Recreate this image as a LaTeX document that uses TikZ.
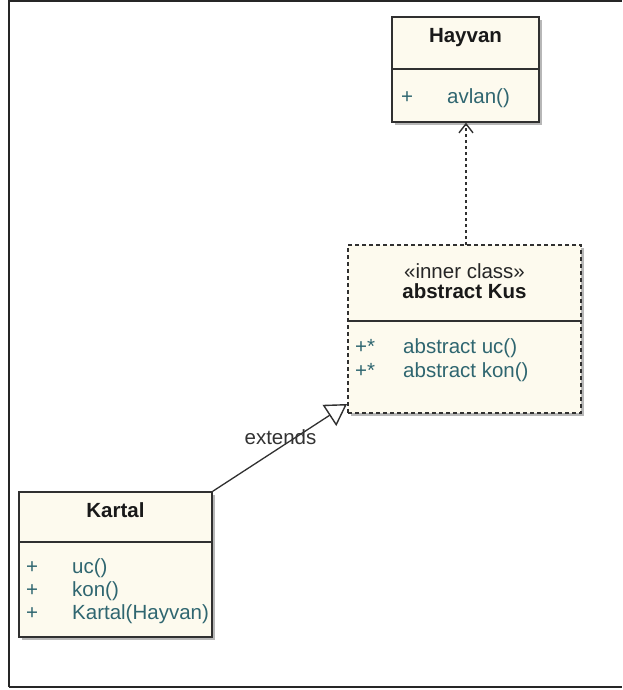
\documentclass[tikz,border=0pt]{standalone}
\usepackage{fontspec}
\setmainfont{Liberation Sans}
\usetikzlibrary{arrows.meta,shadows}
\definecolor{classfill}{HTML}{FDFAEE}
\definecolor{member}{HTML}{2F6670}
\definecolor{edge}{HTML}{303030}
\begin{document}
\begin{tikzpicture}[x=1pt,y=-1pt,
  every node/.style={font=\fontsize{20.5}{24}\selectfont, inner sep=0pt},
  classbox/.style={draw=edge, line width=1.4pt, fill=classfill, rectangle,
    drop shadow={shadow xshift=3pt, shadow yshift=-3pt, fill=black!40, opacity=0.7}},
  abstractbox/.style={classbox, dash pattern=on 4pt off 3pt},
  divider/.style={draw=edge, line width=1.4pt},
  title/.style={anchor=base, font=\fontsize{20.5}{24}\selectfont\bfseries, text=black!90},
  stereo/.style={anchor=base, text=black!85},
  member/.style={anchor=base west, text=member},
  realize/.style={draw=edge, line width=1.5pt, dash pattern=on 3pt off 3pt,
    -{Straight Barb[length=9pt,width=14pt,line width=1.4pt]}},
  inherit/.style={draw=edge, line width=1.3pt,
    -{Triangle[open,length=21pt,width=25pt,line width=1.4pt,fill=white]}},
  edgelabel/.style={text=black!80}
]
\useasboundingbox (0,0) rectangle (622,690);
\fill[white] (0,0) rectangle (622,690);

% outer frame
\draw[line width=2pt, black!85] (9,687) -- (9,1.5) -- (622,1.5);
\draw[line width=2pt, black!85] (9,687) -- (622,687);

% class Hayvan
\node[classbox, minimum width=147pt, minimum height=105pt] (hayvan) at (465.5,69.5) {};
\draw[divider] (hayvan.west |- 0,69) coordinate (hdl) -- (hayvan.east |- 0,69) coordinate (hdr);
\node[title] (hayvanT) at (465.5,43) {Hayvan};
\node[member] (hayvanP) at (401,103) {+};
\node[member] (hayvanM) at (447,103) {avlan()};

% inner class Kus
\node[abstractbox, minimum width=233pt, minimum height=168pt] (kus) at (464.5,329) {};
\draw[divider] (kus.west |- 0,321) coordinate (kdl) -- (kus.east |- 0,321) coordinate (kdr);
\node[stereo] (kusS) at (464.5,278) {«inner class»};
\node[title] (kusT) at (464.5,298) {abstract Kus};
\node[member] (kusP1) at (355,353) {+*};
\node[member] (kusM1) at (403,353) {abstract uc()};
\node[member] (kusP2) at (355,377) {+*};
\node[member] (kusM2) at (403,377) {abstract kon()};

% class Kartal
\node[classbox, minimum width=193pt, minimum height=145pt] (kartal) at (115.5,564.5) {};
\draw[divider] (kartal.west |- 0,542) coordinate (tdl) -- (kartal.east |- 0,542) coordinate (tdr);
\node[title] (kartalT) at (115.5,517) {Kartal};
\node[member] (kartalP1) at (26,573) {+};
\node[member] (kartalM1) at (72,573) {uc()};
\node[member] (kartalP2) at (26,596) {+};
\node[member] (kartalM2) at (72,596) {kon()};
\node[member] (kartalP3) at (26,619) {+};
\node[member] (kartalM3) at (72,619) {Kartal(Hayvan)};

% Kus realizes Hayvan
\coordinate (kusTop) at (466,245);
\draw[realize] (kusTop) -- (kusTop |- hayvan.south);

% Kartal extends Kus
\coordinate (genTip) at (347,404);
\draw[inherit] (kartal.north east) -- (genTip);
\node[edgelabel] (extLabel) at (280.5,437) {extends};
\end{tikzpicture}
\end{document}
